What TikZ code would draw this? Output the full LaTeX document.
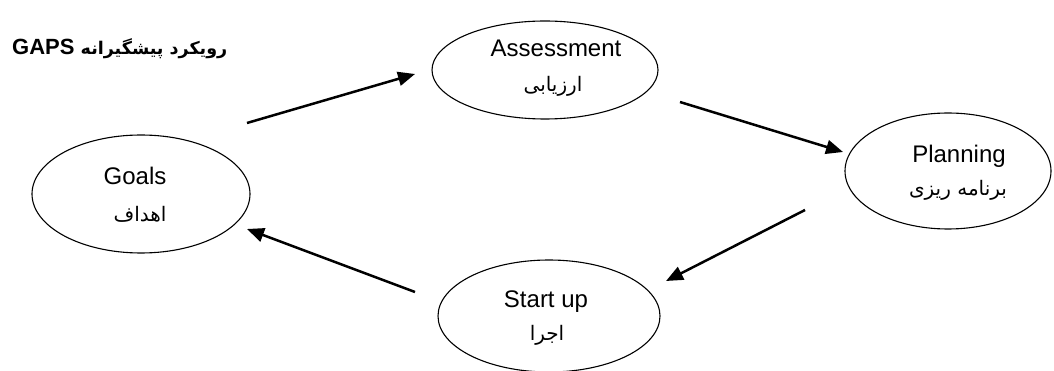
\documentclass[tikz,border=0pt]{standalone}
\usepackage{fontspec}
\setmainfont{Liberation Sans}
\newfontfamily\arabicfont[Script=Arabic]{DejaVu Sans}
\TeXXeTstate=1
\usetikzlibrary{shapes.geometric,arrows.meta}
\begin{document}
\begin{tikzpicture}[x=1pt,y=-1pt,
  oval/.style={draw,ellipse,line width=1.1pt,inner sep=0pt},
  lat/.style={inner sep=0pt,anchor=base,font=\fontsize{24}{28}\selectfont},
  ar/.style={inner sep=0pt,font=\arabicfont\fontsize{20}{22}\selectfont},
  flow/.style={line width=2.5pt,-{Triangle[length=17pt,width=14pt]}}]
\useasboundingbox (0,0) rectangle (1054,371);
% title
\node[anchor=base west,inner sep=0pt,font=\bfseries\fontsize{22}{26}\selectfont] (title) at (12,55)
  {GAPS {\arabicfont\bfseries\fontsize{17.5}{20}\selectfont\beginR رویکرد پیشگیرانه\endR}};
% ellipses
\node[oval,minimum width=218pt,minimum height=118pt] (goals) at (141,194) {};
\node[oval,minimum width=226pt,minimum height=98pt] (assess) at (545,70) {};
\node[oval,minimum width=206pt,minimum height=116pt] (plan) at (948,171) {};
\node[oval,minimum width=222pt,minimum height=112pt] (start) at (549,316) {};
% texts
\node[lat] (goalsT) at (135,185) {Goals};
\node[ar] (goalsA) at (140,214) {\beginR اهداف\endR};
\node[lat] (assessT) at (556,57) {Assessment};
\node[ar] (assessA) at (553,86) {\beginR ارزیابی\endR};
\node[lat] (planT) at (959,163) {Planning};
\node[ar] (planA) at (958,190) {\beginR برنامه ریزی\endR};
\node[lat] (startT) at (546,307) {Start up};
\node[ar] (startA) at (547,335) {\beginR اجرا\endR};
% arrow end points
\coordinate (a1) at (247,123); \coordinate (b1) at (415,74);
\coordinate (a2) at (680,102); \coordinate (b2) at (843,152);
\coordinate (a3) at (805,210); \coordinate (b3) at (666,281);
\coordinate (a4) at (415,292); \coordinate (b4) at (247,229);
\draw[flow] (a1) -- (b1);
\draw[flow] (a2) -- (b2);
\draw[flow] (a3) -- (b3);
\draw[flow] (a4) -- (b4);
\end{tikzpicture}
\end{document}
